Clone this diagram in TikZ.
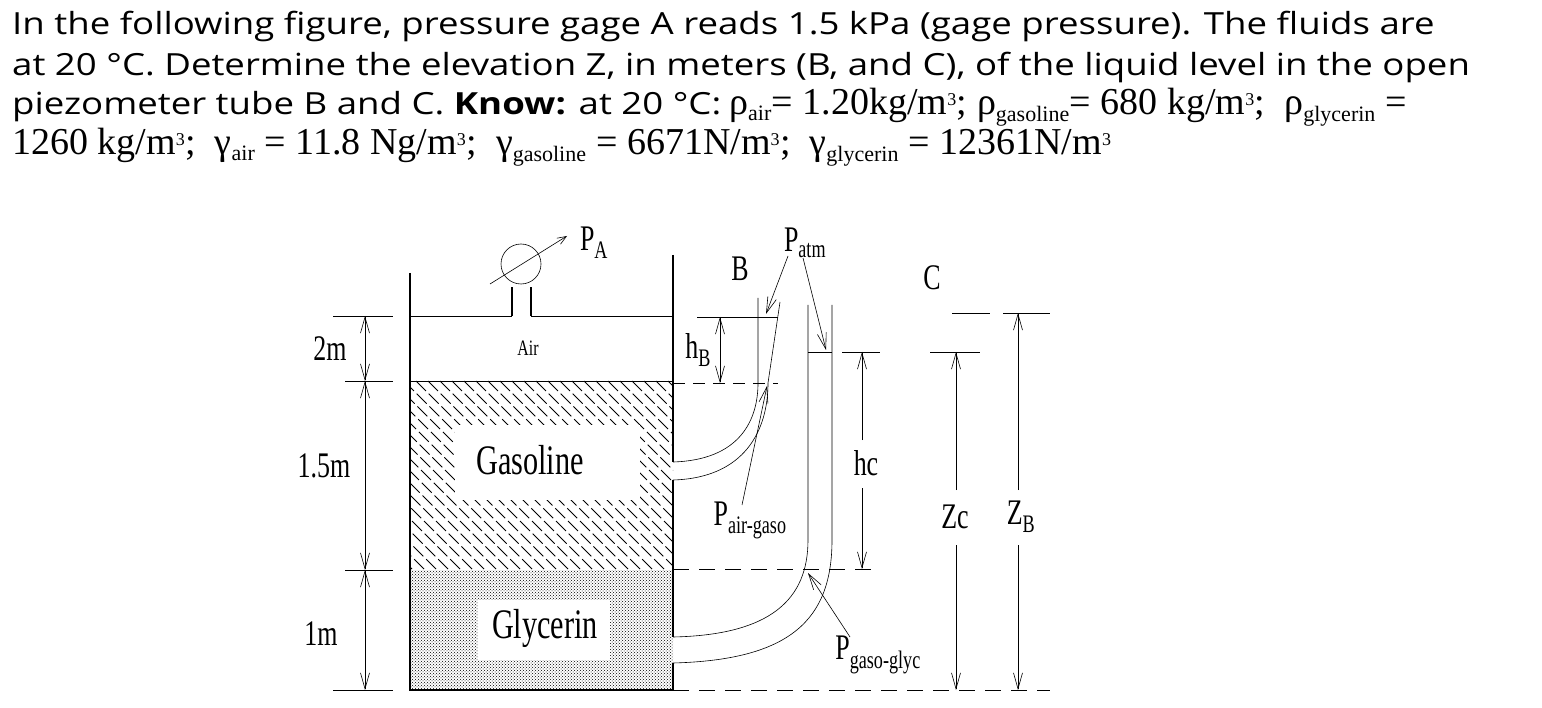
\documentclass[tikz,border=0pt]{standalone}
\usepackage{fontspec}
\setmainfont{Liberation Serif}
\newfontfamily\headfont{Open Sans}
\usetikzlibrary{patterns,arrows.meta}
\newcommand\narrow[1]{\scalebox{0.72}[1]{#1}}
\newcommand\wide[1]{\scalebox{1.2}[1]{#1}}
\newcommand\sub[1]{\textsubscript{\fontsize{22}{22}\selectfont #1}}
\newcommand\cube{\textsuperscript{\fontsize{18}{18}\selectfont 3}}
\tikzset{
  wall/.style={line width=2.5pt},
  thin/.style={line width=0.6pt},
  barb/.style={-{Straight Barb[length=16pt,width=9pt]}},
  dim/.style={line width=0.6pt, {Straight Barb[length=16pt,width=9pt]}-{Straight Barb[length=16pt,width=9pt]}},
  lbl/.style={inner sep=0pt, font=\fontsize{36}{38}\selectfont},
  head/.style={anchor=west, inner sep=0pt, font=\headfont\fontsize{30.5}{36}\selectfont},
}
\begin{document}
\begin{tikzpicture}[x=1pt, y=-1pt]
  \useasboundingbox (0,0) rectangle (1542,708);

  % problem statement
  \node[head] (l1) at (12,27) {\wide{In the following figure, pressure gage A reads 1.5 kPa (gage pressure). The fluids are}};
  \node[head] (l2) at (12,67) {\wide{at 20 °C. Determine the elevation Z, in meters (B, and C), of the liquid level in the open}};
  \node[head] (l3) at (12,107) {\wide{piezometer tube B and C. \textbf{Know:} at 20 °C:} {\fontspec{Liberation Serif}\fontsize{38}{38}\selectfont ρ\sub{air}= 1.20kg/m\cube; ρ\sub{gasoline}= 680 kg/m\cube;\ \ ρ\sub{glycerin} =}};
  \node[head, font=\fontsize{38}{38}\selectfont] (l4) at (12,147) {1260 kg/m\cube;\ \ γ\sub{air} = 11.8 Ng/m\cube;\ \ γ\sub{gasoline} = 6671N/m\cube;\ \ γ\sub{glycerin} = 12361N/m\cube};

  % fluids
  \begin{scope}
    \clip (410,381) rectangle (673,570);
    \foreach \s in {0,12,...,470}
      \draw[line width=1pt, dash pattern=on 14pt off 4pt] (200+\s,381) -- ++(200,200);
  \end{scope}
  \fill[white] (455,425) rectangle (640,500);
  \fill[pattern=crosshatch dots] (410,570) rectangle (673,690);
  \fill[white] (478,600) rectangle (610,660);

  % tank
  \draw[wall] (410,273) -- (410,690) -- (673,690);
  \draw[wall] (673,255) -- (673,462);
  \draw[wall] (673,480) -- (673,637);
  \draw[wall] (673,663) -- (673,690);
  \draw[thin] (410,316) -- (512,316) (531,316) -- (673,316);
  \draw[thin] (410,381) -- (673,381);
  \draw[wall, line width=1.5pt] (512,316) -- (512,287) (531,316) -- (531,287);
  \node[circle, draw, thin, minimum size=40, inner sep=0pt] (gage) at (521,264) {};
  \draw[thin, -{Straight Barb[length=9pt,width=7pt]}] (490,284) -- (567,236);
  \node[lbl] (pa) at (594,243) {\narrow{P\textsubscript{A}}};
  \node[font=\fontsize{22}{24}\selectfont] (air) at (528,348) {\narrow{Air}};
  \node[lbl, font=\fontsize{42}{44}\selectfont] (gas) at (530,460) {\narrow{Gasoline}};
  \node[lbl, font=\fontsize{42}{44}\selectfont] (gly) at (545,628) {\narrow{Glycerin}};

  % tube B
  \draw[thin] (673,462) .. controls (740,460) and (758,420) .. (758,383) -- (758,298);
  \draw[thin] (673,480) .. controls (745,478) and (768,430) .. (768,383) -- (780,302);
  % tube C
  \draw[thin] (673,637) .. controls (770,635) and (808,600) .. (808,540) -- (808,305);
  \draw[thin] (673,663) .. controls (790,660) and (832,620) .. (832,540) -- (832,305);

  % levels
  \draw[thin] (697,317) -- (778,317);
  \draw[thin, dash pattern=on 12pt off 8pt] (673,383) -- (778,383);
  \draw[thin] (808,352) -- (832,352) (842,352) -- (880,352);
  \draw[thin, dash pattern=on 16pt off 10pt] (673,569) -- (880,569);
  \draw[thin, dash pattern=on 16pt off 10pt] (673,690) -- (1050,690);
  \draw[thin] (930,352) -- (980,352) (952,313) -- (990,313) (1003,313) -- (1050,313);

  % left dimensions
  \draw[thin] (333,316) -- (393,316) (345,381) -- (393,381) (345,570) -- (393,570) (333,690) -- (393,690);
  \draw[dim] (365,316) -- (365,381);
  \draw[dim] (365,381) -- (365,570);
  \draw[dim] (365,570) -- (365,690);
  \node[lbl] (d1) at (330,349) {\narrow{2m}};
  \node[lbl] (d2) at (324,466) {\narrow{1.5m}};
  \node[lbl] (d3) at (321,634) {\narrow{1m}};

  % right dimensions
  \draw[dim] (720,317) -- (720,383);
  \node[lbl] (hb) at (698,350) {\narrow{h\textsubscript{B}}};
  \draw[thin, barb] (862,440) -- (862,352);
  \draw[thin, barb] (862,488) -- (862,569);
  \node[lbl] (hc) at (866,463) {\narrow{hc}};
  \draw[thin, barb] (956,490) -- (956,352);
  \draw[thin, barb] (956,545) -- (956,690);
  \node[lbl] (zc) at (955,517) {\narrow{Zc}};
  \draw[thin, barb] (1018,490) -- (1018,313);
  \draw[thin, barb] (1018,545) -- (1018,690);
  \node[lbl] (zb) at (1021,517) {\narrow{Z\textsubscript{B}}};

  % labels with pointers
  \node[lbl] (b) at (740,269) {\narrow{B}};
  \node[lbl] (c) at (932,278) {\narrow{C}};
  \node[lbl] (patm) at (805,243) {\narrow{P\textsubscript{atm}}};
  \draw[thin, barb] (788,256) -- (766,314);
  \draw[thin, barb] (803,258) -- (826,350);
  \node[lbl] (pag) at (750,520) {\narrow{P\textsubscript{air-gaso}}};
  \draw[thin, barb] (742,505) -- (767,386);
  \node[lbl] (pgg) at (878,655) {\narrow{P\textsubscript{gaso-glyc}}};
  \draw[thin, barb] (850,637) -- (808,573);
\end{tikzpicture}
\end{document}
